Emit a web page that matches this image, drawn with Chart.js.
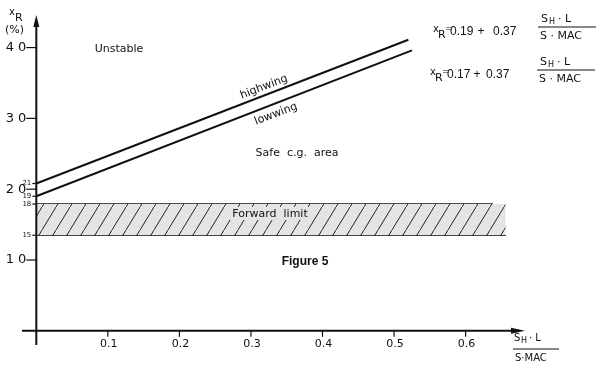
<!DOCTYPE html>
<html lang="en">
<head>
    <meta charset="UTF-8">
    <title>Figure 5</title>
    <style>
        body { margin: 0; background: #fff; }
        #wrap { width: 600px; height: 366px; position: relative; }
    </style>
    <script src="https://cdn.jsdelivr.net/npm/chart.js"></script>
</head>
<body>
    <div id="wrap"><canvas id="fig" width="600" height="366"></canvas></div>
    <script>
        // values (y in %)
        const highX = [0, 0.52];
        const highY = [20.8, 41.1];
        const lowX = [0, 0.525];
        const lowY = [19.0, 39.6];
        const bandX = [0, 0.656];
        const bandTopEdgeX = [0, 0.638];
        const bandTop = 17.9;
        const bandBottom = 13.5;

        const xTicks = [0.1, 0.2, 0.3, 0.4, 0.5, 0.6];
        const xTickLabels = ['0.1', '0.2', '0.3', '0.4', '0.5', '0.6'];
        const yTicks = [10, 20, 30, 40];
        const yTickLabels = ['10', '20', '30', '40'];
        const yMinorTicks = [13.5, 17.9, 19.0, 20.8];
        const yMinorLabels = ['15', '18', '19', '21'];

        const pts = (xs, ys) => xs.map((x, i) => ({ x: x, y: Array.isArray(ys) ? ys[i] : ys }));

        // hatch pattern for the forward limit band
        function hatch() {
            const c = document.createElement('canvas');
            c.width = 14; c.height = 23;
            const g = c.getContext('2d');
            g.fillStyle = '#e4e4e4';
            g.fillRect(0, 0, 14, 23);
            g.strokeStyle = '#222';
            g.lineWidth = 1;
            g.beginPath();
            g.moveTo(0, 23); g.lineTo(14, 0);
            g.stroke();
            return g.createPattern(c, 'repeat');
        }

        const drawStuff = {
            id: 'drawStuff',
            afterDatasetsDraw(chart) {
                const ctx = chart.ctx;
                const xs = chart.scales.x, ys = chart.scales.y;
                const x0 = xs.getPixelForValue(0), y0 = ys.getPixelForValue(0);
                ctx.save();
                ctx.strokeStyle = '#111';
                ctx.fillStyle = '#111';
                ctx.lineWidth = 2;
                // axes
                ctx.beginPath();
                ctx.moveTo(x0, ys.bottom); ctx.lineTo(x0, ys.top + 6);
                ctx.moveTo(xs.left, y0); ctx.lineTo(xs.right - 6, y0);
                ctx.stroke();
                // arrow heads
                ctx.beginPath();
                ctx.moveTo(x0, ys.top); ctx.lineTo(x0 - 3, ys.top + 12); ctx.lineTo(x0 + 3, ys.top + 12);
                ctx.closePath(); ctx.fill();
                ctx.beginPath();
                ctx.moveTo(xs.right, y0); ctx.lineTo(xs.right - 14, y0 - 3); ctx.lineTo(xs.right - 14, y0 + 3);
                ctx.closePath(); ctx.fill();

                // ticks
                ctx.lineWidth = 1.2;
                ctx.font = '11px "DejaVu Sans"';
                ctx.textAlign = 'center';
                ctx.textBaseline = 'middle';
                xTicks.forEach((v, i) => {
                    const px = xs.getPixelForValue(v);
                    ctx.beginPath(); ctx.moveTo(px, y0); ctx.lineTo(px, y0 + 6); ctx.stroke();
                    ctx.fillText(xTickLabels[i], px + 1, y0 + 13);
                });
                ctx.textAlign = 'right';
                ctx.font = '13px "DejaVu Sans"';
                yTicks.forEach((v, i) => {
                    const py = ys.getPixelForValue(v);
                    ctx.beginPath(); ctx.moveTo(x0 - 10, py); ctx.lineTo(x0, py); ctx.stroke();
                    ctx.fillText(yTickLabels[i].split('').join(' '), x0 - 10, py);
                });
                ctx.font = '7px "DejaVu Sans"';
                yMinorTicks.forEach((v, i) => {
                    const py = ys.getPixelForValue(v);
                    ctx.beginPath(); ctx.moveTo(x0 - 4, py); ctx.lineTo(x0, py); ctx.stroke();
                    ctx.fillText(yMinorLabels[i], x0 - 5, py);
                });

                // axis titles
                ctx.textAlign = 'left';
                ctx.font = '10px "DejaVu Sans"';
                ctx.fillText('x', 9, 12);
                ctx.font = '11px "DejaVu Sans"';
                ctx.fillText('R', 15, 18);
                ctx.fillText('(%)', 5, 30);

                ctx.font = '10px "DejaVu Sans"';
                ctx.fillText('S', 514, 338);
                ctx.font = '8px "DejaVu Sans"';
                ctx.fillText('H', 521, 341);
                ctx.font = '10px "DejaVu Sans"';
                ctx.fillText('\u00b7 L', 529, 338);
                ctx.fillText('S\u00b7MAC', 515, 358);
                ctx.lineWidth = 1;
                ctx.beginPath(); ctx.moveTo(513, 349); ctx.lineTo(559, 349); ctx.stroke();

                // equations
                function eq(x, y, a, a0, plus, b0, fx) {
                    ctx.textAlign = 'left';
                    ctx.font = '10px "DejaVu Sans"';
                    ctx.fillText('x', x, y - 3);
                    ctx.font = '11px "DejaVu Sans"';
                    ctx.fillText('R', x + 5, y + 3);
                    ctx.font = '9px "DejaVu Sans"';
                    ctx.fillText('=', x + 12, y - 3);
                    ctx.font = '12px "Liberation Sans"';
                    ctx.fillText(a, a0, y);
                    ctx.textAlign = 'center';
                    ctx.fillText('+', plus, y);
                    ctx.textAlign = 'left';
                    ctx.fillText('0.37', b0, y);
                    ctx.font = '11px "DejaVu Sans"';
                    ctx.fillText('S', fx + 3, y - 13);
                    ctx.font = '8px "DejaVu Sans"';
                    ctx.fillText('H', fx + 11, y - 10);
                    ctx.font = '11px "DejaVu Sans"';
                    ctx.fillText('\u00b7 L', fx + 20, y - 13);
                    ctx.fillText('S \u00b7 MAC', fx + 2, y + 4);
                    ctx.beginPath(); ctx.moveTo(fx, y - 5); ctx.lineTo(fx + 58, y - 5); ctx.stroke();
                }
                eq(433, 32, '0.19', 450, 481, 493, 538);
                eq(430, 75, '0.17', 447, 477, 486, 537);

                // region labels
                ctx.textAlign = 'center';
                ctx.font = '11px "DejaVu Sans"';
                ctx.fillText('Unstable', 119, 49);
                ctx.fillText('Safe  c.g.  area', 297, 153);
                ctx.fillStyle = '#e4e4e4';
                ctx.fillRect(230, 207, 80, 13);
                ctx.fillStyle = '#111';
                ctx.fillText('Forward  limit', 270, 214);

                ctx.save();
                ctx.translate(264, 87); ctx.rotate(-21 * Math.PI / 180);
                ctx.fillText('highwing', 0, 0);
                ctx.restore();
                ctx.save();
                ctx.translate(276, 114); ctx.rotate(-21 * Math.PI / 180);
                ctx.fillText('lowwing', 0, 0);
                ctx.restore();

                ctx.font = 'bold 12px "Liberation Sans"';
                ctx.fillText('Figure 5', 305, 262);
                ctx.restore();
            }
        };

        new Chart(document.getElementById('fig'), {
            type: 'scatter',
            data: {
                datasets: [
                    { label: 'bandTop', data: pts(bandX, bandTop), showLine: true, borderWidth: 0,
                      pointRadius: 0, fill: '+1', backgroundColor: hatch() },
                    { label: 'bandBottom', data: pts(bandX, bandBottom), showLine: true, borderColor: '#111',
                      borderWidth: 1.5, pointRadius: 0, fill: false },
                    { label: 'bandTopEdge', data: pts(bandTopEdgeX, bandTop), showLine: true, borderColor: '#111',
                      borderWidth: 1.5, pointRadius: 0, fill: false },
                    { label: 'highwing', data: pts(highX, highY), showLine: true, borderColor: '#111',
                      borderWidth: 2, pointRadius: 0, fill: false },
                    { label: 'lowwing', data: pts(lowX, lowY), showLine: true, borderColor: '#111',
                      borderWidth: 2, pointRadius: 0, fill: false }
                ]
            },
            options: {
                responsive: false,
                animation: false,
                layout: { padding: { left: 22, right: 75, top: 15, bottom: 21 } },
                plugins: { legend: { display: false }, tooltip: { enabled: false } },
                scales: {
                    x: { type: 'linear', min: -0.02, max: 0.683, display: false },
                    y: { type: 'linear', min: -2, max: 44.6, display: false }
                }
            },
            plugins: [drawStuff]
        });
    </script>
</body>
</html>
